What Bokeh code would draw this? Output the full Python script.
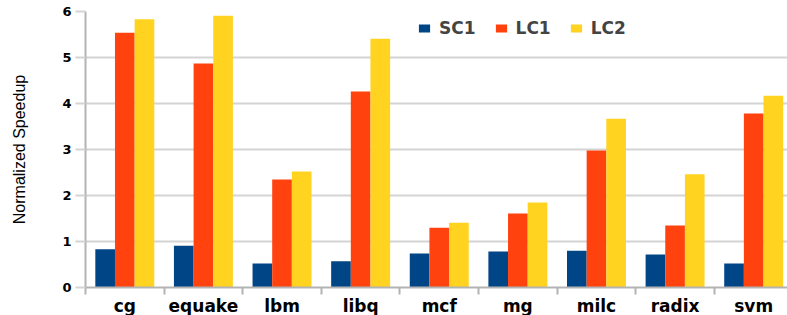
from bokeh.plotting import figure
from bokeh.models import Range1d, FixedTicker, ColumnDataSource
from bokeh.embed import file_html
from bokeh.resources import INLINE

categories = ["cg", "equake", "lbm", "libq", "mcf", "mg", "milc", "radix", "svm"]
series_names = ["SC1", "LC1", "LC2"]
sc1 = [0.83, 0.91, 0.52, 0.57, 0.74, 0.78, 0.80, 0.72, 0.52]
lc1 = [5.54, 4.87, 2.35, 4.26, 1.30, 1.61, 2.98, 1.35, 3.78]
lc2 = [5.83, 5.91, 2.52, 5.41, 1.41, 1.85, 3.67, 2.46, 4.17]
y_ticks = [0, 1, 2, 3, 4, 5, 6]
colors = ["#004586", "#ff420e", "#ffd320"]

centers = [i + 0.5 for i in range(len(categories))]
bounds = list(range(len(categories) + 1))

p = figure(frame_width=702, frame_height=276, output_backend="svg", toolbar_location=None,
           x_range=Range1d(0, 8.93), y_range=Range1d(0, 6),
           min_border_left=85, min_border_right=0, min_border_top=11, min_border_bottom=20)
p.outline_line_color = None
p.background_fill_color = "white"

grid_col = "#d4d4d4"
axis_col = "#b3b3b3"

offsets = [-0.25, 0.0, 0.25]
for name, vals, off, col in zip(series_names, [sc1, lc1, lc2], offsets, colors):
    src = ColumnDataSource(dict(x=[c + off for c in centers], top=vals))
    p.vbar(x="x", top="top", width=0.25, bottom=0, source=src,
           fill_color=col, line_color=None, legend_label=name)

# x axis
p.xaxis.ticker = FixedTicker(ticks=centers, minor_ticks=bounds)
p.xaxis.major_label_overrides = {c: lab for c, lab in zip(centers, categories)}
p.xaxis.major_tick_out = 0
p.xaxis.major_tick_in = 0
p.xaxis.minor_tick_out = 7
p.xaxis.minor_tick_in = 0
p.xaxis.minor_tick_line_color = axis_col
p.xaxis.minor_tick_line_width = 2
p.xaxis.axis_line_color = axis_col
p.xaxis.axis_line_width = 2
p.xaxis.major_label_text_font = "DejaVu Sans"
p.xaxis.major_label_text_font_style = "bold"
p.xaxis.major_label_text_font_size = "17px"
p.xaxis.major_label_text_color = "#000000"
p.xaxis.major_label_standoff = 1
p.xgrid.grid_line_color = None

# y axis
p.yaxis.ticker = FixedTicker(ticks=y_ticks)
p.yaxis.minor_tick_line_color = None
p.yaxis.major_tick_out = 10
p.yaxis.major_tick_in = 0
p.yaxis.major_tick_line_color = grid_col
p.yaxis.major_tick_line_width = 2
p.yaxis.axis_line_color = axis_col
p.yaxis.axis_line_width = 2
p.yaxis.major_label_text_font = "DejaVu Sans"
p.yaxis.major_label_text_font_style = "bold"
p.yaxis.major_label_text_font_size = "13px"
p.yaxis.major_label_text_color = "#000000"
p.yaxis.major_label_standoff = 4
p.yaxis.axis_label = "Normalized Speedup"
p.yaxis.axis_label_text_font = "Liberation Sans"
p.yaxis.axis_label_text_font_style = "normal"
p.yaxis.axis_label_text_font_size = "16px"
p.yaxis.axis_label_text_color = "#000000"
p.yaxis.axis_label_standoff = 31
p.ygrid.grid_line_color = grid_col
p.ygrid.grid_line_width = 2

# legend
lg = p.legend[0]
lg.orientation = "horizontal"
lg.location = (332, 249)
lg.padding = 0
lg.margin = 0
lg.spacing = 18
lg.glyph_width = 14
lg.glyph_height = 10
lg.label_standoff = 8
lg.label_height = 12
lg.label_text_font = "DejaVu Sans"
lg.label_text_font_style = "bold"
lg.label_text_font_size = "17px"
lg.border_line_color = None
lg.background_fill_alpha = 0

open("out.html", "w").write(file_html(p, INLINE))
